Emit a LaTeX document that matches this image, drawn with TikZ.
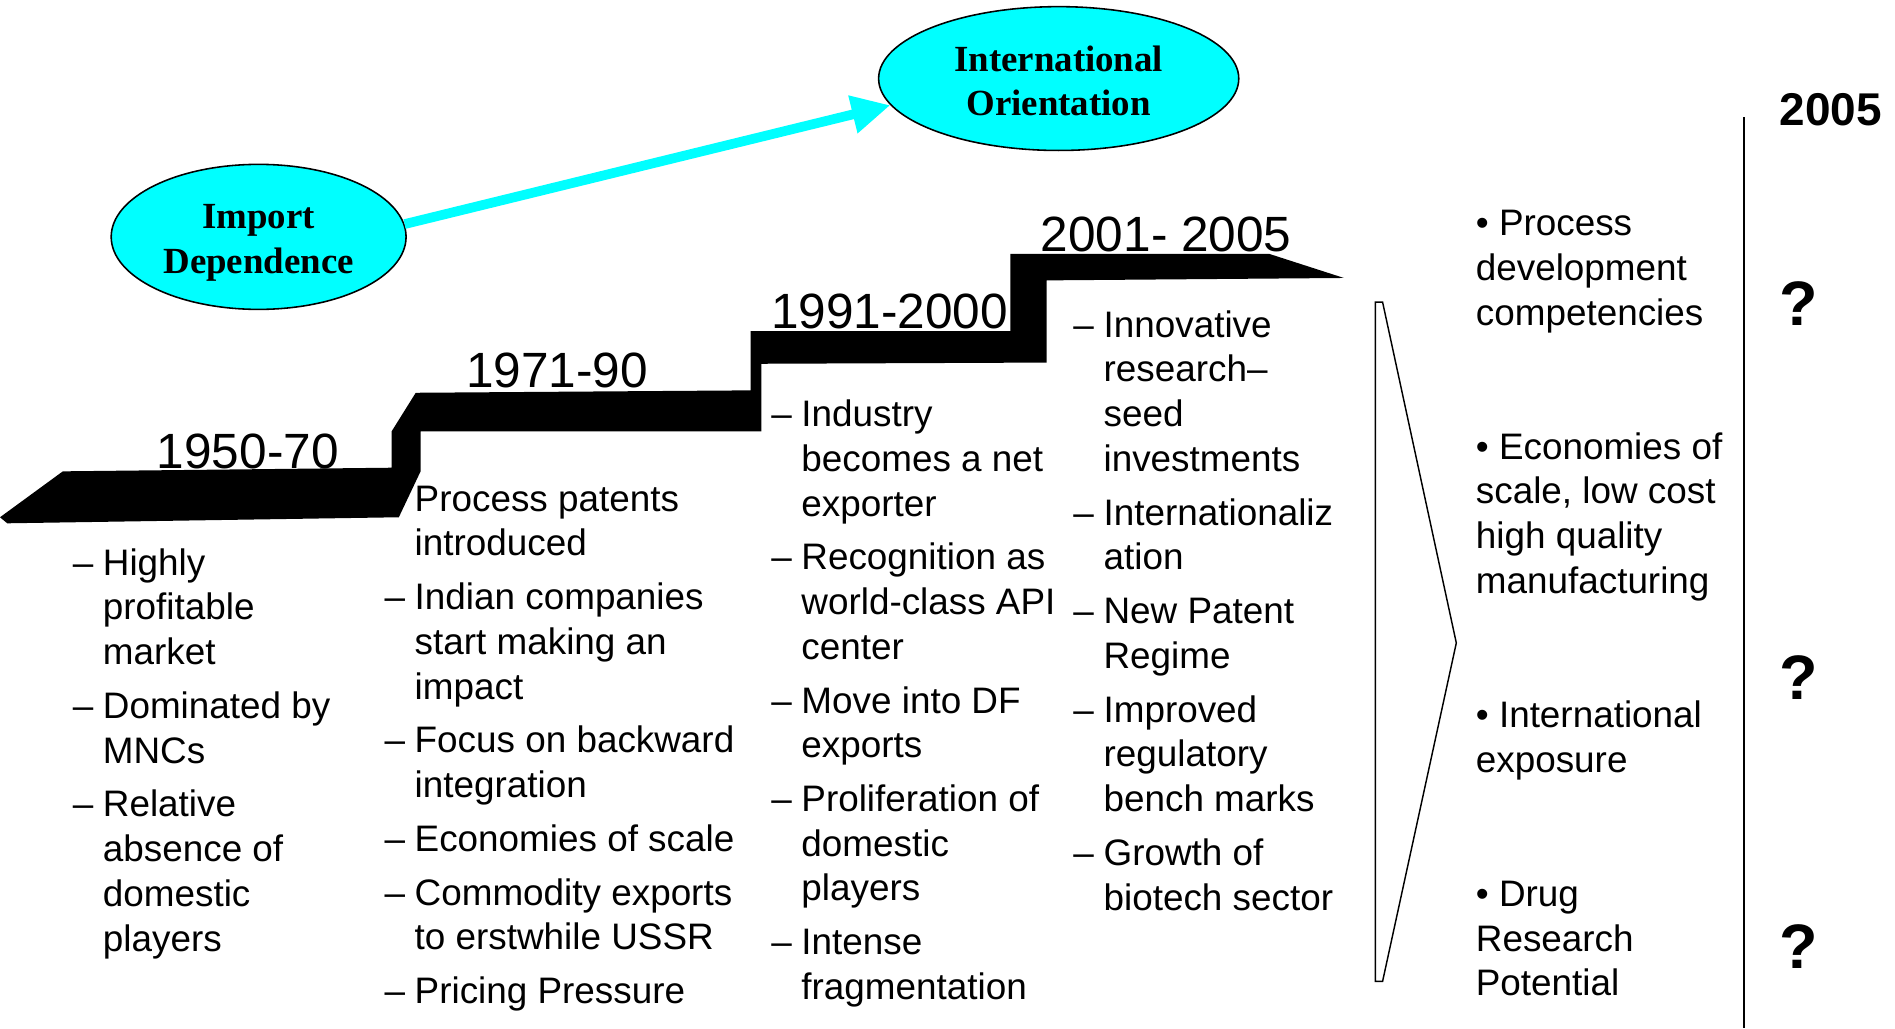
\documentclass[tikz,border=0pt]{standalone}
\usepackage{fontspec}
\setmainfont{Liberation Sans}
\newfontfamily\ovalfont{Liberation Serif}
\usetikzlibrary{arrows.meta,shapes.geometric}

\definecolor{aqua}{RGB}{0,255,255}
\newcommand{\bodysize}{\fontsize{30.5}{37}\selectfont}

\begin{document}
\begin{tikzpicture}[x=1pt,y=-1pt,
	oval/.style={ellipse, draw=black, line width=1.3pt, fill=aqua, inner sep=0pt},
	ovaltext/.style={inner sep=0pt, align=center, font=\ovalfont\bfseries\fontsize{30.5}{37}\selectfont},
	pile/.style={aqua, line width=8pt, -{Triangle[length=32pt,width=30pt]}},
	year/.style={anchor=base, inner sep=0pt, font=\fontsize{41}{49}\selectfont},
	column/.style={anchor=base west, inner sep=0pt, font=\bodysize},
	query/.style={anchor=base, inner sep=0pt, font=\bfseries\fontsize{52}{60}\selectfont}]

	\useasboundingbox (0,0) rectangle (1568,851);

	% Draw staircase
	\fill[black] (0,428) -- (52,390) -- (324,387) -- (324,357) -- (344,325) -- (621,323) -- (621,274) -- (836,274) -- (836,210) -- (1050,210) -- (1112,230) -- (866,232) -- (866,300) -- (630,301) -- (630,357) -- (348,357) -- (348,390) -- (330,428) -- (6,433) -- cycle;

	% Years
	\node[year] (y1) at (205,388) {1950-70};
	\node[year] (y2) at (461,321) {1971-90};
	\node[year] (y3) at (736,272) {1991-2000};
	\node[year] (y4) at (965,208) {2001- 2005};

	% Ovals and arrow
	\node[oval, minimum width=244pt, minimum height=120pt] (imp) at (214,196) {};
	\node[ovaltext] (imptext) at (214,201) {Import\\Dependence};
	\node[oval, minimum width=298pt, minimum height=119pt] (intl) at (876,65) {};
	\node[ovaltext] (intltext) at (876,67) {International\\Orientation};
	\draw[pile] (imp.5) -- (intl.189);

	% Columns
	\node[column] (era1) at (60,476) {\begin{tabular}[t]{@{}l@{\hspace{8pt}}l@{}}
		\textendash & Highly\\
		 & profitable\\
		 & market\\[7.5pt]
		\textendash & Dominated by\\
		 & MNCs\\[7.5pt]
		\textendash & Relative\\
		 & absence of\\
		 & domestic\\
		 & players
	\end{tabular}};

	\node[column] (era2) at (318,423) {\begin{tabular}[t]{@{}l@{\hspace{8pt}}l@{}}
		\phantom{\textendash} & Process patents\\
		 & introduced\\[7.5pt]
		\textendash & Indian companies\\
		 & start making an\\
		 & impact\\[7.5pt]
		\textendash & Focus on backward\\
		 & integration\\[7.5pt]
		\textendash & Economies of scale\\[7.5pt]
		\textendash & Commodity exports\\
		 & to erstwhile USSR\\[7.5pt]
		\textendash & Pricing Pressure
	\end{tabular}};

	\node[column] (era3) at (638,353) {\begin{tabular}[t]{@{}l@{\hspace{8pt}}l@{}}
		\textendash & Industry\\
		 & becomes a net\\
		 & exporter\\[7.5pt]
		\textendash & Recognition as\\
		 & world-class API\\
		 & center\\[7.5pt]
		\textendash & Move into DF\\
		 & exports\\[7.5pt]
		\textendash & Proliferation of\\
		 & domestic\\
		 & players\\[7.5pt]
		\textendash & Intense\\
		 & fragmentation
	\end{tabular}};

	\node[column] (era4) at (888,279) {\begin{tabular}[t]{@{}l@{\hspace{8pt}}l@{}}
		\textendash & Innovative\\
		 & research\textendash\\
		 & seed\\
		 & investments\\[7.5pt]
		\textendash & Internationaliz\\
		 & ation\\[7.5pt]
		\textendash & New Patent\\
		 & Regime\\[7.5pt]
		\textendash & Improved\\
		 & regulatory\\
		 & bench marks\\[7.5pt]
		\textendash & Growth of\\
		 & biotech sector
	\end{tabular}};

	% Bracket and outlook
	\draw[line width=1.2pt] (1138,250) -- (1144,250) -- (1205,532) -- (1144,812) -- (1138,812) -- cycle;

	\node[column] (outlook) at (1221,195) {\begin{tabular}[t]{@{}l@{}}
		\textbullet\ Process\\
		development\\
		competencies\\[74pt]
		\textbullet\ Economies of\\
		scale, low cost\\
		high quality\\
		manufacturing\\[74pt]
		\textbullet\ International\\
		exposure\\[74pt]
		\textbullet\ Drug\\
		Research\\
		Potential
	\end{tabular}};

	\draw[line width=2pt] (1443,97) -- (1443,851);

	% Labels
	\node[anchor=base, inner sep=0pt, font=\bfseries\fontsize{38}{46}\selectfont] (yr) at (1515,104) {2005};
	\node[query] (q1) at (1488,269) {?};
	\node[query] (q2) at (1488,579) {?};
	\node[query] (q3) at (1488,801) {?};

\end{tikzpicture}
\end{document}
